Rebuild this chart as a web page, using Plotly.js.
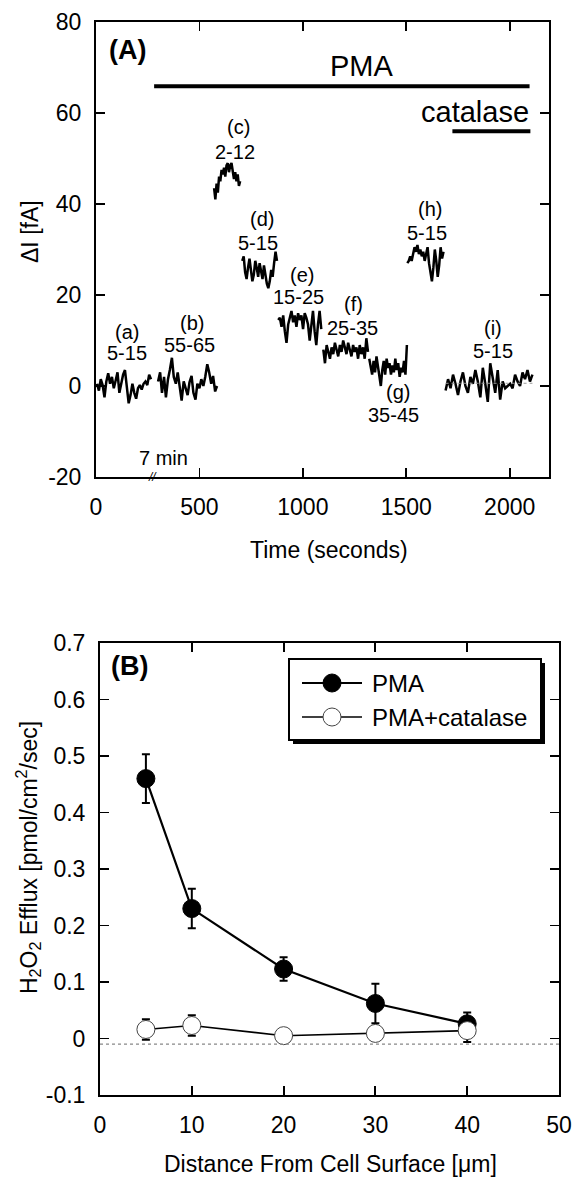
<!DOCTYPE html>
<html>
<head>
<meta charset="utf-8">
<script src="https://cdn.plot.ly/plotly-3.0.1.min.js"></script>
<style>html,body{margin:0;padding:0;background:#fff}</style>
</head>
<body>
<div id="chart" style="width:578px;height:1183px"></div>
<script>
// ---------- Panel A data: current traces (time s, delta I fA) ----------
const segLabels = ["(a)","(b)","(c)","(d)","(e)","(f)","(g)","(h)","(i)"];
const segRanges = ["5-15","55-65","2-12","5-15","15-25","25-35","35-45","5-15","5-15"];

const tA = [5,14,23,32,41,50,59,68,77,86,95,104,113,122,131,140,149,158,167,176,185,194,203,212,221,230,239,248,257,266];
const iA = [0.5,-1.0,1.5,0.2,-2.5,1.0,2.8,0.5,2.0,-0.5,1.2,3.0,-1.5,0.8,2.5,3.5,-0.8,-3.8,-2.0,0.5,-1.5,-2.8,-0.5,0.2,-0.8,0.5,1.0,0.2,2.5,1.5];

const tB = [300,310,319,329,338,348,357,367,376,386,395,405,414,424,433,443,452,462,471,481,490,500,509,519,528,538,547,557,566,576,585];
const iB = [1.0,3.0,-1.5,2.0,-2.5,1.5,3.5,6.2,2.0,0.5,3.0,-1.0,-3.2,1.0,-0.5,-2.0,0.8,2.2,-1.5,-3.0,0.5,-0.5,1.5,0.0,2.0,4.8,3.0,0.5,2.2,-1.2,0.0];

const tC = [571,577,583,589,595,601,607,613,619,625,631,637,643,649,655,661,667,673,679,685,691,697];
const iC = [43.5,41.0,44.5,42.5,46.0,45.0,47.5,46.5,48.0,46.0,48.5,49.0,47.0,48.5,49.0,46.5,45.5,47.0,45.0,46.5,44.0,45.0];

const tD = [707,714,721,728,735,742,749,756,763,770,777,784,791,798,805,812,819,826,833,840,847,854,861,868,875];
const iD = [27.5,28.5,25.0,23.5,26.0,28.0,25.5,23.0,24.5,27.5,26.0,24.0,27.0,25.0,23.5,26.5,24.0,22.5,21.5,23.0,25.5,24.0,27.0,29.5,27.5];

const tE = [881,889,897,905,913,921,929,937,945,953,961,969,977,985,993,1001,1009,1017,1025,1033,1041,1049,1057,1065,1073,1081,1089];
const iE = [14.5,15.0,13.0,15.5,12.0,9.5,13.5,15.0,16.5,14.0,15.5,13.0,16.0,14.5,15.5,12.5,16.0,15.0,13.5,10.0,14.0,16.5,12.0,9.0,13.5,16.5,12.5];

const tF = [1099,1107,1115,1123,1131,1139,1147,1155,1163,1171,1179,1187,1195,1203,1211,1219,1227,1235,1243,1251,1259,1267,1275,1283,1291,1299,1307,1315];
const iF = [8.0,5.0,9.0,7.5,6.0,8.5,7.0,9.5,8.0,6.5,9.0,7.5,10.0,8.5,7.0,9.5,8.0,6.5,9.0,7.5,8.5,6.0,9.0,7.0,8.5,6.0,10.5,7.5];

const tG = [1321,1328,1335,1342,1349,1356,1363,1370,1377,1384,1391,1398,1405,1412,1419,1426,1433,1440,1447,1454,1461,1468,1475,1482,1489,1496,1503];
const iG = [6.0,4.0,2.5,5.5,3.0,6.5,4.0,1.5,0.0,3.5,5.5,2.5,6.0,4.0,5.0,2.5,4.5,3.0,6.0,3.5,5.0,2.0,4.0,3.0,5.5,2.5,9.0];

const tH = [1505,1512,1519,1526,1533,1540,1547,1554,1561,1568,1575,1582,1589,1596,1603,1610,1617,1624,1631,1638,1645,1652,1659,1666,1673,1680];
const iH = [27.0,27.5,28.5,27.5,29.0,30.5,29.5,31.0,29.0,30.0,28.5,29.5,27.5,29.0,30.5,27.0,24.5,23.0,26.0,30.0,27.5,24.0,26.5,30.5,28.0,29.5];

const tI = [1690,1702,1714,1726,1738,1750,1762,1774,1786,1798,1810,1822,1834,1846,1858,1870,1882,1894,1906,1918,1930,1942,1954,1966,1978,1990,2002,2014,2026,2038,2050,2062,2074,2086,2098,2110];
const iI = [-1.0,1.5,-0.5,2.5,0.5,-2.0,1.0,3.0,0.0,-1.5,2.0,0.5,3.5,1.0,-2.5,4.0,0.5,-3.5,5.0,2.0,-1.5,3.5,-3.0,1.0,-0.5,0.0,0.5,-0.5,2.5,1.0,0.0,3.0,1.5,3.5,1.0,2.5];

const timeTicks = [0,500,1000,1500,2000];
const currentTicks = [-20,0,20,40,60,80];
const currentTickText = ["-20","0","20","40","60","80"];

// ---------- Panel B data ----------
const distance = [5,10,20,30,40];
const pmaEfflux = [0.46,0.23,0.123,0.062,0.026];
const pmaErr = [0.043,0.035,0.021,0.035,0.02];
const catEfflux = [0.016,0.023,0.005,0.009,0.014];
const catErr = [0.018,0.018,0.004,0.005,0.02];
const distTicks = [0,10,20,30,40,50];
const effluxTicks = [-0.1,0,0.1,0.2,0.3,0.4,0.5,0.6,0.7];
const effluxTickText = ["-0.1","0","0.1","0.2","0.3","0.4","0.5","0.6","0.7"];

// ---------- helpers ----------
const W = 578, H = 1183;
const PX = x => x / W;
const PY = y => 1 - y / H;
const FONT = 'Liberation Sans, Arial, Helvetica, sans-serif';

const segments = [[tA,iA],[tB,iB],[tC,iC],[tD,iD],[tE,iE],[tF,iF],[tG,iG],[tH,iH],[tI,iI]];
const traces = segments.map(s => ({
  x: s[0], y: s[1], xaxis: 'x', yaxis: 'y', type: 'scatter', mode: 'lines',
  line: {color: 'black', width: 2.5}, hoverinfo: 'skip'
}));

traces.push({
  x: distance, y: pmaEfflux, xaxis: 'x2', yaxis: 'y2', type: 'scatter', mode: 'lines+markers',
  line: {color: 'black', width: 2.2},
  marker: {color: 'black', size: 18, line: {color: 'black', width: 1}},
  error_y: {type: 'data', array: pmaErr, visible: true, color: 'black', thickness: 2, width: 4}
});
traces.push({
  x: distance, y: catEfflux, xaxis: 'x2', yaxis: 'y2', type: 'scatter', mode: 'lines+markers',
  line: {color: 'black', width: 1.6},
  marker: {color: 'white', size: 18, line: {color: '#444', width: 1}},
  error_y: {type: 'data', array: catErr, visible: true, color: 'black', thickness: 2, width: 4}
});

const axBase = {
  showline: true, mirror: 'ticks', linecolor: 'black', linewidth: 2,
  ticks: 'inside', ticklen: 9, tickwidth: 1.8, tickcolor: 'black',
  showgrid: false, zeroline: false,
  tickfont: {family: FONT, size: 23, color: 'black'}
};

// segment label positions (data coords of panel A)
const segLabelPos = [[150,11.9],[465,13.8],[687,56.9],[803,36.7],[997,24.4],[1244,18.0],[1462,-1.3],[1617,38.9],[1917,12.7]];
const segRangePos = [[150,7.3],[450,9.0],[673,51.4],[784,31.4],[978,19.6],[1239,12.7],[1437,-6.4],[1602,33.6],[1917,7.7]];

const annotations = [];
segLabels.forEach((t, k) => {
  annotations.push({xref:'x', yref:'y', x: segLabelPos[k][0], y: segLabelPos[k][1], text: t, showarrow:false,
    font:{family:FONT, size:20, color:'black'}, xanchor:'center', yanchor:'middle'});
  annotations.push({xref:'x', yref:'y', x: segRangePos[k][0], y: segRangePos[k][1], text: segRanges[k], showarrow:false,
    font:{family:FONT, size:20, color:'black'}, xanchor:'center', yanchor:'middle'});
});

annotations.push(
  {xref:'paper', yref:'paper', x: PX(127), y: PY(50), text:'<b>(A)</b>', showarrow:false, font:{family:FONT,size:27,color:'black'}, xanchor:'center', yanchor:'middle'},
  {xref:'paper', yref:'paper', x: PX(129), y: PY(666), text:'<b>(B)</b>', showarrow:false, font:{family:FONT,size:27,color:'black'}, xanchor:'center', yanchor:'middle'},
  {xref:'x', yref:'y', x: 1287, y: 70.3, text:'PMA', showarrow:false, font:{family:FONT,size:29,color:'black'}, xanchor:'center', yanchor:'middle'},
  {xref:'paper', yref:'paper', x: PX(531), y: PY(112), text:'catalase', showarrow:false, font:{family:FONT,size:29,color:'black'}, xanchor:'right', yanchor:'middle'},
  {xref:'paper', yref:'paper', x: PX(163), y: PY(458), text:'7 min', showarrow:false, font:{family:FONT,size:20,color:'black'}, xanchor:'center', yanchor:'middle'},
  {xref:'paper', yref:'paper', x: PX(152), y: PY(477), text:'<i>//</i>', showarrow:false, font:{family:FONT,size:12,color:'black'}, xanchor:'center', yanchor:'middle'},
  {xref:'paper', yref:'paper', x: PX(329), y: PY(550), text:'Time (seconds)', showarrow:false, font:{family:FONT,size:23,color:'black'}, xanchor:'center', yanchor:'middle'},
  {xref:'paper', yref:'paper', x: PX(30), y: PY(232), text:'\u0394I [fA]', textangle:-90, showarrow:false, font:{family:FONT,size:23,color:'black'}, xanchor:'center', yanchor:'middle'},
  {xref:'paper', yref:'paper', x: PX(330), y: PY(1164), text:'Distance From Cell Surface [\u03bcm]', showarrow:false, font:{family:FONT,size:23,color:'black'}, xanchor:'center', yanchor:'middle'},
  {xref:'paper', yref:'paper', x: PX(28), y: PY(858), text:'H<sub>2</sub>O<sub>2</sub> Efflux [pmol/cm<sup>2</sup>/sec]', textangle:-90, showarrow:false, font:{family:FONT,size:23,color:'black'}, xanchor:'center', yanchor:'middle'},
  {xref:'paper', yref:'paper', x: PX(370), y: PY(683), text:'PMA', showarrow:false, font:{family:FONT,size:24,color:'black'}, xanchor:'left', yanchor:'middle'},
  {xref:'paper', yref:'paper', x: PX(370), y: PY(717), text:'PMA+catalase', showarrow:false, font:{family:FONT,size:24,color:'black'}, xanchor:'left', yanchor:'middle'}
);

const shapes = [
  {type:'line', xref:'x', yref:'y', x0:281, x1:2096, y0:65.9, y1:65.9, line:{color:'black', width:4}},
  {type:'line', xref:'x', yref:'y', x0:1723, x1:2100, y0:56.0, y1:56.0, line:{color:'black', width:4}},
  {type:'line', xref:'x', yref:'y', x0:1690, x1:2110, y0:0.6, y1:0.6, line:{color:'#999', width:1, dash:'dot'}},
  {type:'line', xref:'x2', yref:'y2', x0:0, x1:50, y0:-0.01, y1:-0.01, line:{color:'#888', width:1.2, dash:'dot'}},
  {type:'rect', xref:'paper', yref:'paper', x0:PX(293), x1:PX(545), y0:PY(744), y1:PY(663), fillcolor:'black', line:{width:0}, layer:'above'},
  {type:'rect', xref:'paper', yref:'paper', x0:PX(289), x1:PX(541), y0:PY(740), y1:PY(659), fillcolor:'white', line:{color:'black', width:2}, layer:'above'},
  {type:'line', xref:'paper', yref:'paper', x0:PX(302), x1:PX(362), y0:PY(683), y1:PY(683), line:{color:'black', width:2}, layer:'above'},
  {type:'line', xref:'paper', yref:'paper', x0:PX(302), x1:PX(362), y0:PY(717), y1:PY(717), line:{color:'black', width:1.5}, layer:'above'},
  {type:'circle', xref:'paper', yref:'paper', x0:PX(323), x1:PX(341), y0:PY(692), y1:PY(674), fillcolor:'black', line:{color:'black', width:1}, layer:'above'},
  {type:'circle', xref:'paper', yref:'paper', x0:PX(323), x1:PX(341), y0:PY(726), y1:PY(708), fillcolor:'white', line:{color:'#444', width:1}, layer:'above'}
];

const layout = {
  width: W, height: H,
  margin: {l:0, r:0, t:0, b:0},
  paper_bgcolor: 'white', plot_bgcolor: 'white',
  showlegend: false,
  font: {family: FONT, size: 22, color: 'black'},
  xaxis: Object.assign({}, axBase, {domain:[PX(96), PX(549)], range:[0,2190], anchor:'y', tickvals: timeTicks, ticklabelstandoff: 8}),
  yaxis: Object.assign({}, axBase, {domain:[PY(477), PY(22)], range:[-20,80], anchor:'x', tickvals: currentTicks, ticktext: currentTickText, ticklabelstandoff: 8}),
  xaxis2: Object.assign({}, axBase, {domain:[PX(100), PX(559)], range:[0,50], anchor:'y2', tickvals: distTicks, ticklabelstandoff: 8}),
  yaxis2: Object.assign({}, axBase, {domain:[PY(1095), PY(643)], range:[-0.1,0.7], anchor:'x2', tickvals: effluxTicks, ticktext: effluxTickText, ticklabelstandoff: 8}),
  annotations: annotations,
  shapes: shapes
};

Plotly.newPlot('chart', traces, layout, {displayModeBar: false, staticPlot: true});
</script>
</body>
</html>
